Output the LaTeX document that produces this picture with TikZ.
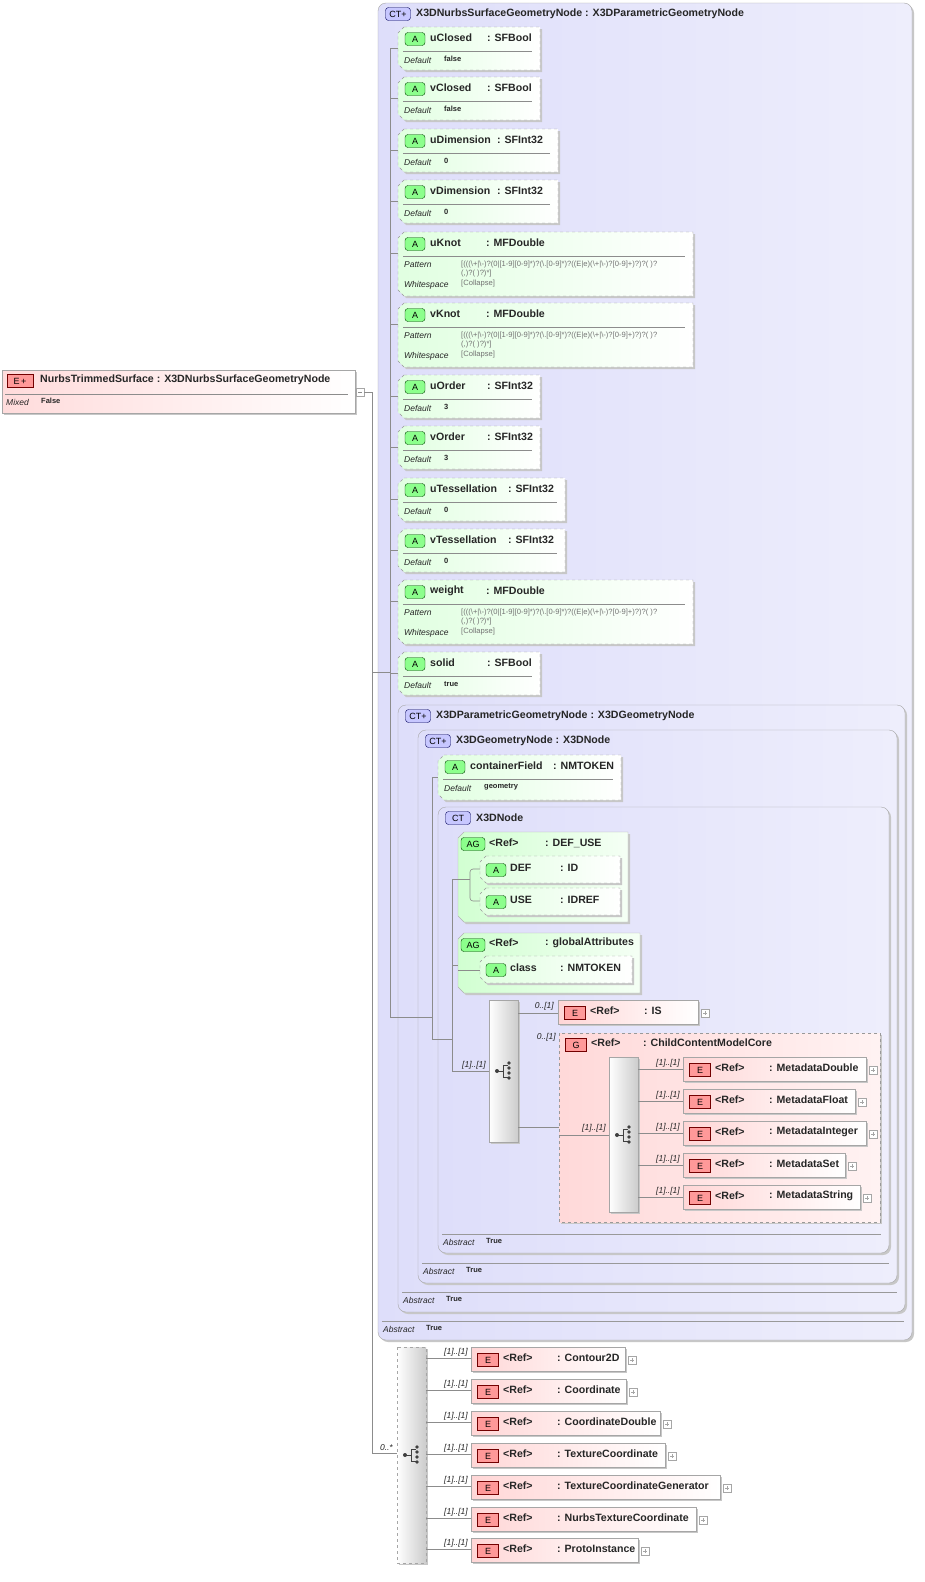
\documentclass[tikz,border=0pt]{standalone}
\usepackage{fontspec}
\setmainfont{Liberation Sans}
\begin{document}
\begin{tikzpicture}[x=1pt,y=-1pt,
 lbl/.style={font=\fontsize{10.6}{12}\selectfont\bfseries, anchor=west, inner sep=0, text=black!85},
 it/.style={font=\fontsize{8.5}{9}\selectfont\itshape, anchor=west, inner sep=0, text=black!85},
 mult/.style={font=\fontsize{8.5}{9}\selectfont\itshape, anchor=east, inner sep=0, text=black!85},
 val/.style={font=\fontsize{7.5}{8}\selectfont\bfseries, anchor=west, inner sep=0, text=black!85},
 pat/.style={font=\fontsize{7.6}{8}\selectfont, anchor=west, inner sep=0, text=black!55},
 conn/.style={black!45, line width=0.6},
 shad/.style={fill=black!22},
 abadge/.style={draw=green!25!black, fill=green!45!white, rounded corners=3, minimum width=20, minimum height=13, inner sep=0, font=\fontsize{9}{10}\selectfont},
 ebadge/.style={draw=red!45!black, fill=red!40!white, minimum width=21, minimum height=13, inner sep=0, font=\fontsize{9}{10}\selectfont},
 ctbadge/.style={draw=blue!35!black, fill=blue!22!white, rounded corners=3, minimum width=25, minimum height=13, inner sep=0, font=\fontsize{9}{10}\selectfont},
 ctfill/.style={draw=black!35, rounded corners=8, left color={rgb,255:red,222;green,222;blue,250}, right color={rgb,255:red,238;green,238;blue,252}},
 chfill/.style={draw=black!35, left color=white, right color=black!20},
]
\useasboundingbox (0,0) rectangle (925,1582);
\fill[white] (0,0) rectangle (925,1582);

% ---------- helper macros ----------
\newcommand\chpath[4]{(#1+6,#2)--(#3,#2)--(#3,#4)--(#1+6,#4)--(#1,#4-6)--(#1,#2+6)--cycle}
\newcommand\Abox[9]{%
 \fill[shad] \chpath{#2+2}{#3+2}{#4+2}{#5+2};
 \draw[black!40, dashed, left color=green!12, right color=white] \chpath{#2}{#3}{#4}{#5};
 \node[abadge] (#1b) at (#2+17,#3+12) {A};
 \node[lbl] (#1) at (#2+32,#3+11) {#6};
 \node[lbl] (#1t) at (#8,#3+11) {: #7};
 \draw[black!45] (#2+5,#3+24) -- (#4-8,#3+24);
 \node[it] (#1d) at (#2+6,#3+33) {Default};
 \node[val] (#1v) at (#2+46,#3+32) {#9};
}
\newcommand\patline{[(((\textbackslash+|\textbackslash-)?(0|[1-9][0-9]*)?(\textbackslash.[0-9]*)?((E|e)(\textbackslash+|\textbackslash-)?[0-9]+)?)?( )?}
\newcommand\Pbox[5]{%
 \fill[shad] \chpath{#2+2}{#3+2}{693+2}{#3+64+2};
 \draw[black!40, dashed, left color=green!12, right color=white] \chpath{#2}{#3}{693}{#3+64};
 \node[abadge] (#1b) at (#2+17,#3+12) {A};
 \node[lbl] (#1) at (#2+32,#3+11) {#4};
 \node[lbl] (#1t) at (486,#3+11) {: #5};
 \draw[black!45] (#2+5,#3+24) -- (693-8,#3+24);
 \node[it] (#1p) at (#2+6,#3+33) {Pattern};
 \node[pat] (#1q) at (#2+63,#3+33) {\patline};
 \node[pat] (#1r) at (#2+63,#3+42) {(,)?( )?)*]};
 \node[it] (#1w) at (#2+6,#3+53) {Whitespace};
 \node[pat] (#1c) at (#2+63,#3+52) {[Collapse]};
}
\newcommand\Sbox[7]{% id x1 y1 x2 name type colonx
 \fill[shad] \chpath{#2+2}{#3+2}{#4+2}{#3+29};
 \draw[black!40, dashed, left color=green!12, right color=white] \chpath{#2}{#3}{#4}{#3+27};
 \node[abadge] (#1b) at (#2+16,#3+14) {A};
 \node[lbl] (#1) at (#2+30,#3+12) {#5};
 \node[lbl] (#1t) at (#7,#3+12) {: #6};
}
\newcommand\Ebox[5]{% id x1 y1 x2 name
 \fill[shad] (#2+2,#3+2) rectangle (#4+2,#3+26);
 \draw[black!35, left color=red!16, right color=white] (#2,#3) rectangle (#4,#3+24);
 \node[ebadge] (#1b) at (#2+17,#3+13) {E};
 \node[lbl] (#1) at (#2+32,#3+11) {<Ref>};
 \node[lbl] (#1t) at (#2+86,#3+11) {: #5};
 \draw[black!35, fill=white] (#4+3,#3+9) rectangle (#4+11,#3+17);
 \draw[black!35] (#4+5,#3+13) -- (#4+9,#3+13) (#4+7,#3+11) -- (#4+7,#3+15);
}
\newcommand\CTbox[8]{% id x1 y1 x2 y2 title abstract-line-y badge
 \fill[shad, rounded corners=8] (#2+2,#3+2) rectangle (#4+2,#5+2);
 \draw[ctfill] (#2,#3) rectangle (#4,#5);
 \node[ctbadge] (#1b) at (#2+20,#3+11) {#8};
 \node[lbl] (#1) at (#2+38,#3+11) {#6};
 \draw[black!40] (#2+4,#7) -- (#4-8,#7);
 \node[it] (#1a) at (#2+5,#7+8) {Abstract};
 \node[val] (#1v) at (#2+48,#7+7) {True};
}
\newcommand\icon[3]{% id cx cy
 \coordinate (#1) at (#2,#3);
 \fill[black!75] (#2-7,#3) circle (2);
 \draw[black!75, line width=0.9] (#2-7,#3) -- (#2-1,#3) (#2-1,#3-6) -- (#2-1,#3+6)
   (#2-1,#3-6) -- (#2+4,#3-6) (#2-1,#3+6) -- (#2+4,#3+6);
 \fill[black!75] (#2+5,#3-8) circle (1.8) (#2+5,#3-3) circle (1.8) (#2+5,#3+2) circle (1.8) (#2+5,#3+7) circle (1.8);
}

% ---------- root element ----------
\fill[shad] (4,372) rectangle (357,415);
\draw[black!35, left color=red!14, right color=white] (2,370) rectangle (355,413);
\node[ebadge, minimum width=26] (rootb) at (20,381) {E\,+};
\node[lbl] (root) at (40,380) {NurbsTrimmedSurface : X3DNurbsSurfaceGeometryNode};
\draw[black!45] (5,394) -- (348,394);
\node[it] (rootm) at (6,402) {Mixed};
\node[val] (rootv) at (41,401) {False};
\draw[black!35, fill=white] (356,388) rectangle (364,396);
\draw[black!45] (358,392) -- (362,392);
\coordinate (rootc) at (364,392);

% ---------- outer CT ----------
\CTbox{ctA}{378}{3}{912}{1340}{X3DNurbsSurfaceGeometryNode : X3DParametricGeometryNode}{1321}{CT+}

\Abox{uClosed}{398}{27}{540}{70}{uClosed}{SFBool}{487}{false}
\Abox{vClosed}{398}{77}{540}{120}{vClosed}{SFBool}{487}{false}
\Abox{uDim}{398}{129}{558}{172}{uDimension}{SFInt32}{497}{0}
\Abox{vDim}{398}{180}{558}{223}{vDimension}{SFInt32}{497}{0}
\Pbox{uKnot}{398}{232}{uKnot}{MFDouble}
\Pbox{vKnot}{398}{303}{vKnot}{MFDouble}
\Abox{uOrder}{398}{375}{540}{418}{uOrder}{SFInt32}{487}{3}
\Abox{vOrder}{398}{426}{540}{469}{vOrder}{SFInt32}{487}{3}
\Abox{uTess}{398}{478}{565}{521}{uTessellation}{SFInt32}{508}{0}
\Abox{vTess}{398}{529}{565}{572}{vTessellation}{SFInt32}{508}{0}
\Pbox{weight}{398}{580}{weight}{MFDouble}
\Abox{solid}{398}{652}{540}{695}{solid}{SFBool}{487}{true}

\CTbox{ctB}{398}{705}{905}{1312}{X3DParametricGeometryNode : X3DGeometryNode}{1292}{CT+}
\CTbox{ctC}{418}{730}{897}{1283}{X3DGeometryNode : X3DNode}{1263}{CT+}
\Abox{cf}{438}{755}{621}{800}{containerField}{NMTOKEN}{553}{geometry}
\CTbox{ctD}{438}{807}{889}{1253}{X3DNode}{1234}{CT}

% AG DEF_USE
\fill[shad] \chpath{460}{834}{630}{924};
\draw[black!30, left color=green!18, right color=green!4] \chpath{458}{832}{628}{922};
\node[abadge, minimum width=24] (agab) at (473,844) {AG};
\node[lbl] (aga) at (489,843) {<Ref>};
\node[lbl] (agat) at (545,843) {: DEF\_USE};
\Sbox{def}{480}{856}{620}{DEF}{ID}{560}
\Sbox{use}{480}{888}{620}{USE}{IDREF}{560}
% AG globalAttributes
\fill[shad] \chpath{460}{935}{642}{995};
\draw[black!30, left color=green!18, right color=green!4] \chpath{458}{933}{640}{993};
\node[abadge, minimum width=24] (agbb) at (473,945) {AG};
\node[lbl] (agb) at (489,943) {<Ref>};
\node[lbl] (agbt) at (545,943) {: globalAttributes};
\Sbox{cls}{480}{956}{632}{class}{NMTOKEN}{560}

% choice 1
\fill[shad] (491,1002) rectangle (520,1144);
\draw[chfill] (489,1000) rectangle (518,1142);
\icon{ch1}{504}{1071}
\Ebox{is}{558}{1000}{698}{IS}

% group
\fill[shad] (561,1035) rectangle (882,1224);
\draw[black!40, dashed, left color=red!15, right color=red!5] (559,1033) rectangle (880,1222);
\node[ebadge] (gb) at (576,1045) {G};
\node[lbl] (g) at (591,1043) {<Ref>};
\node[lbl] (gt) at (643,1043) {: ChildContentModelCore};
\fill[shad] (611,1059) rectangle (640,1214);
\draw[chfill] (609,1057) rectangle (638,1212);
\icon{ch2}{624}{1135}
\Ebox{md}{683}{1057}{866}{MetadataDouble}
\Ebox{mf}{683}{1089}{855}{MetadataFloat}
\Ebox{mi}{683}{1121}{866}{MetadataInteger}
\Ebox{ms}{683}{1153}{845}{MetadataSet}
\Ebox{mstr}{683}{1185}{860}{MetadataString}

% ---------- bottom choice ----------
\fill[shad] (399,1349) rectangle (428,1565);
\draw[chfill, dashed] (397,1347) rectangle (426,1563);
\icon{ch3}{412}{1455}
\Ebox{c2d}{471}{1347}{625}{Contour2D}
\Ebox{crd}{471}{1379}{626}{Coordinate}
\Ebox{crdd}{471}{1411}{660}{CoordinateDouble}
\Ebox{tc}{471}{1443}{665}{TextureCoordinate}
\Ebox{tcg}{471}{1475}{720}{TextureCoordinateGenerator}
\Ebox{ntc}{471}{1507}{696}{NurbsTextureCoordinate}
\Ebox{pi}{471}{1538}{638}{ProtoInstance}

% ---------- connectors ----------
\draw[conn] (rootc) -- (372,392) -- (372,1453) -- (397,1453);
\draw[conn] (372,672) -- (390,672);
\draw[conn] (390,48) -- (390,1017);
\foreach \y in {48,98,150,201,253,324,396,447,499,550,601,673}
  \draw[conn] (390,\y) -- (398,\y);
\draw[conn] (390,1017) -- (432,1017);
\draw[conn] (432,777) -- (432,1039);
\draw[conn] (432,777) -- (438,777);
\draw[conn] (432,1039) -- (452,1039);
\draw[conn] (452,879) -- (452,1071) -- (489,1071);
\draw[conn] (452,965) -- (458,965);
\draw[conn] (452,879) -- (470,879);
\draw[conn, rounded corners=3] (480,869) -- (470,869) -- (470,901) -- (480,901);
\draw[conn] (458,970) -- (480,970);
\draw[conn] (518,1013) -- (558,1013);
\draw[conn] (518,1127) -- (559,1127) (559,1135) -- (609,1135);
\foreach \y in {1069,1101,1133,1165,1197}
  \draw[conn] (638,\y) -- (683,\y);
\foreach \y in {1358,1390,1422,1454,1486,1518,1549}
  \draw[conn] (426,\y) -- (471,\y);

% multiplicities
\node[mult] (m1) at (554,1006) {0..[1]};
\node[mult] (m2) at (556,1037) {0..[1]};
\node[mult] (m3) at (486,1065) {[1]..[1]};
\node[mult] (m4) at (606,1128) {[1]..[1]};
\foreach \y in {1063,1095,1127,1159,1191}
  \node[mult] at (680,\y) {[1]..[1]};
\node[mult] (m5) at (393,1448) {0..*};
\foreach \y in {1352,1384,1416,1448,1480,1512,1543}
  \node[mult] at (468,\y) {[1]..[1]};
\end{tikzpicture}
\end{document}
